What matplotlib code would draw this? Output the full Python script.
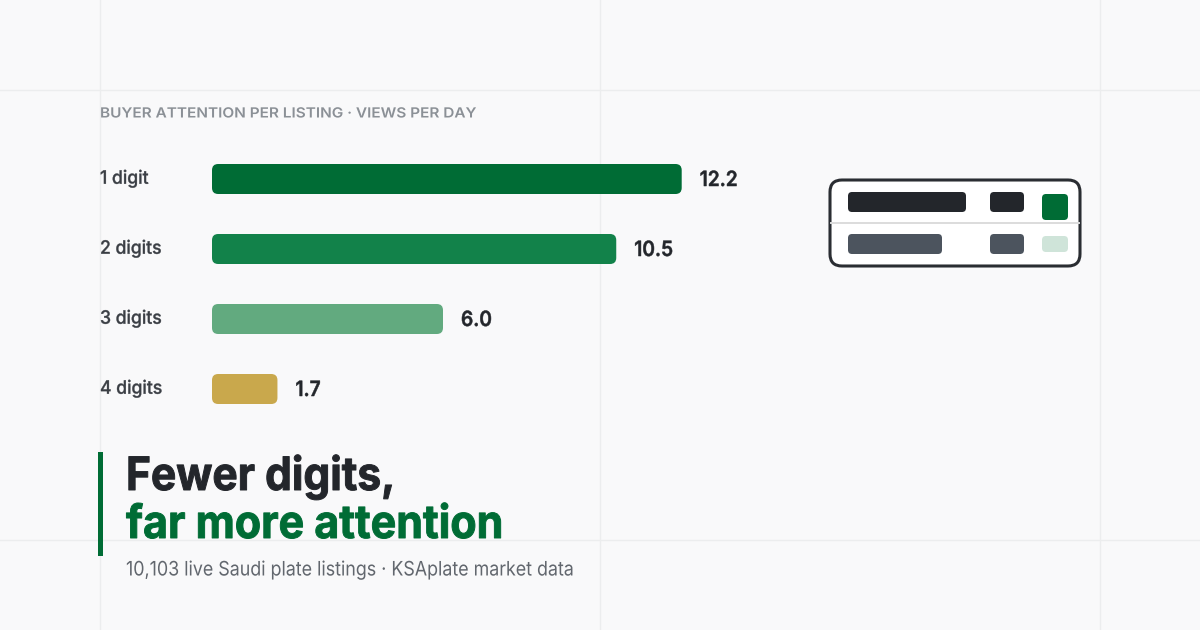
import matplotlib.pyplot as plt
from matplotlib.patches import FancyBboxPatch, Rectangle
from matplotlib.patheffects import AbstractPathEffect
from matplotlib.transforms import Affine2D

plt.rcParams['font.family'] = ['Inter', 'DejaVu Sans']

labels = ['1 digit', '2 digits', '3 digits', '4 digits']
values = [12.2, 10.5, 6.0, 1.7]
value_text = ['12.2', '10.5', '6.0', '1.7']
bar_colors = ['#006c35', '#12824a', '#62aa7f', '#c9a84c']

grid_x = [100, 600, 1100]
grid_y = [90, 540]

BG = '#f9f9fa'


class Track(AbstractPathEffect):
    # no letter-spacing in matplotlib, so squeeze/stretch the text around its left edge
    def __init__(self, x0, sx, bold=0.0):
        super().__init__()
        self.x0, self.sx, self.bold = x0, sx, bold

    def draw_path(self, renderer, gc, tpath, affine, rgbFace):
        t = affine + Affine2D().translate(-self.x0, 0).scale(self.sx, 1).translate(self.x0, 0)
        gc0 = renderer.new_gc()
        gc0.copy_properties(gc)
        gc0.set_linewidth(self.bold)
        gc0.set_foreground(rgbFace)
        renderer.draw_path(gc0, tpath, t, rgbFace)
        gc0.restore()


# figure in pixels
fig = plt.figure(figsize=(12, 6.3), dpi=100, facecolor=BG)
bg = fig.add_axes([0, 0, 1, 1])
bg.set_xlim(0, 1200)
bg.set_ylim(630, 0)
bg.axis('off')

for x in grid_x:
    bg.plot([x, x], [0, 630], color='#ecedee', lw=1.0, zorder=0)
for y in grid_y:
    bg.plot([0, 1200], [y, y], color='#ecedee', lw=1.0, zorder=0)


def px(v):
    return v * 0.72


# header
bg.text(100, 113.5, 'BUYER ATTENTION PER LISTING · VIEWS PER DAY', fontsize=px(14),
        fontweight=600, color='#8b9096', va='center', ha='left',
        path_effects=[Track(100, 1.097)])

# bars axes: 38.5 px per view, 70 px per row
ax = fig.add_axes([212 / 1200, 1 - 424 / 630, 616 / 1200, 280 / 630])
ax.set_xlim(0, 16)
ax.set_ylim(3.5, -0.5)
ax.axis('off')
ax.patch.set_alpha(0)
for i, (v, c) in enumerate(zip(values, bar_colors)):
    ax.add_patch(FancyBboxPatch((0, i - 15 / 70), v, 30 / 70,
                                boxstyle='round,pad=0,rounding_size=0.16',
                                mutation_aspect=38.5 / 70, fc=c, ec='none'))
    ax.text(v + 18 / 38.5, i + 1 / 70, value_text[i], fontsize=px(21), fontweight=600,
            color='#23262b', va='center', ha='left',
            path_effects=[Track(212 + v * 38.5 + 18, 0.91, 0.35)])
    bg.text(100, 179 + 70 * i, labels[i], fontsize=px(18.5), fontweight=500,
            color='#3a3e44', va='center', ha='left',
            path_effects=[Track(100, 0.95, 0.25)])

# plate icon
bg.add_patch(FancyBboxPatch((830, 180), 250, 86, boxstyle='round,pad=0,rounding_size=12',
                            fc='#ffffff', ec='#2a2d32', lw=2.2, zorder=3))
bg.plot([831, 1079], [223, 223], color='#dcdcdc', lw=1.4, zorder=4)
for x, y, w, h, r, c in [(848, 192, 118, 20, 4, '#23262b'),
                         (990, 192, 34, 20, 4, '#23262b'),
                         (1042, 194, 26, 26, 4, '#006c35'),
                         (848, 234, 94, 20, 4, '#4c545e'),
                         (990, 234, 34, 20, 4, '#4c545e'),
                         (1042, 236, 26, 16, 4, '#cfe4d9')]:
    bg.add_patch(FancyBboxPatch((x, y), w, h, boxstyle='round,pad=0,rounding_size=%s' % r,
                                fc=c, ec='none', zorder=5))

# headline
bg.add_patch(Rectangle((98, 452), 5, 104, fc='#006c35', ec='none', zorder=3))
bg.text(126, 490, 'Fewer digits,', fontsize=px(46), fontweight=700, color='#23262b',
        va='baseline', ha='left', path_effects=[Track(126, 0.924, 0.7)])
bg.text(126, 538, 'far more attention', fontsize=px(46), fontweight=700, color='#006c35',
        va='baseline', ha='left', path_effects=[Track(126, 0.933, 0.7)])
bg.text(126, 570.5, '10,103 live Saudi plate listings · KSAplate market data', fontsize=px(20),
        fontweight=400, color='#62676e', va='center', ha='left',
        path_effects=[Track(126, 0.892)])

fig.savefig('out.png', dpi=100, facecolor=fig.get_facecolor())
